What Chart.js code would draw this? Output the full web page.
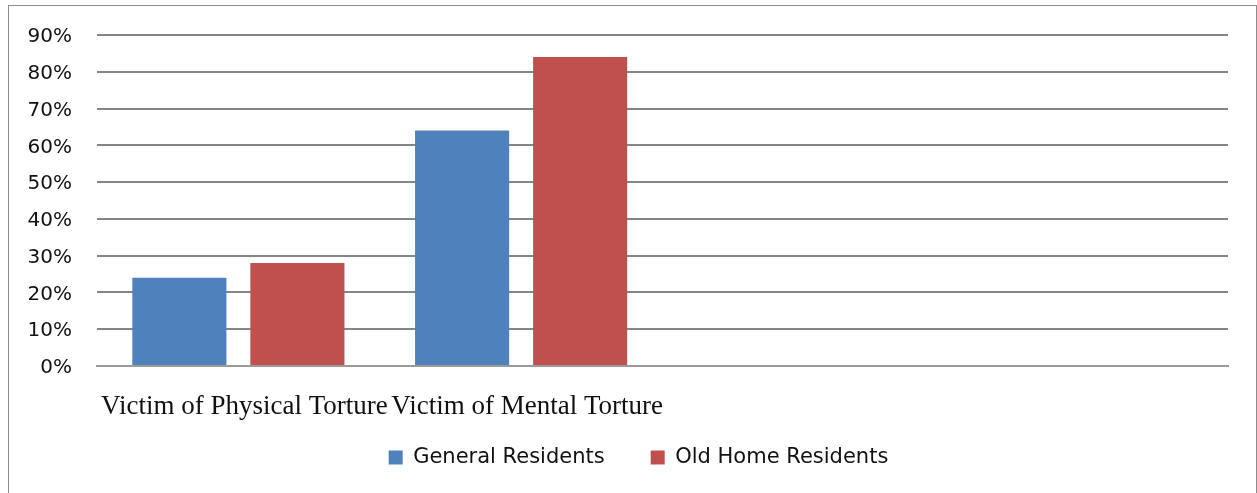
<!DOCTYPE html>
<html>
<head>
<meta charset="utf-8">
<script src="https://cdn.jsdelivr.net/npm/chart.js@4/dist/chart.umd.min.js"></script>
<style>
	html, body { margin: 0; padding: 0; background: #fff; overflow: hidden; }
	#frame {
		position: absolute;
		left: 8px;
		top: 5px;
		width: 1249px;
		height: 520px;
		border: 1px solid #8c8c8c;
		box-sizing: border-box;
	}
	#tortureChart { display: block; }
</style>
</head>
<body>
<div id="frame">
	<canvas id="tortureChart" width="1247" height="500"></canvas>
</div>
<script>
const categories = ['Victim of Physical Torture', 'Victim of Mental Torture', '', ''];
const generalResidents = [24, 64, null, null];
const oldHomeResidents = [28, 84, null, null];
const yTicks = [0, 10, 20, 30, 40, 50, 60, 70, 80, 90];

// the legend sits a bit left of the plot centre and close under the labels in the original
const legendShift = {
	id: 'legendShift',
	afterLayout: (chart) => {
		chart.legend.left += 40;
		chart.legend.top -= 20;
	}
};

document.addEventListener('DOMContentLoaded', () => {
	const canvas = document.getElementById('tortureChart');

	new Chart(canvas.getContext('2d'), {
		type: 'bar',
		data: {
			labels: categories,
			datasets: [{
				label: 'General Residents',
				data: generalResidents,
				backgroundColor: '#4F81BD',
				borderWidth: 0
			}, {
				label: 'Old Home Residents',
				data: oldHomeResidents,
				backgroundColor: '#C0504D',
				borderWidth: 0
			}]
		},
		plugins: [legendShift],
		options: {
			responsive: false,
			animation: false,
			categoryPercentage: 0.835,
			barPercentage: 0.797,
			layout: {
				padding: { left: 0, right: 28, top: 29, bottom: 8 }
			},
			scales: {
				x: {
					grid: { display: false },
					border: { display: true, color: '#9a9a9a', width: 2 },
					afterFit: (scale) => { scale.height = 55; },
					ticks: {
						autoSkip: false,
						maxRotation: 0,
						minRotation: 0,
						padding: 17,
						labelOffset: 6,
						color: '#111',
						font: { family: '"Liberation Serif", serif', size: 27 }
					}
				},
				y: {
					min: 0,
					max: yTicks[yTicks.length - 1],
					afterFit: (scale) => { scale.width = 88; },
					afterBuildTicks: (scale) => {
						scale.ticks = yTicks.map(v => ({ value: v }));
					},
					grid: {
						color: '#868686',
						lineWidth: 2,
						drawTicks: true,
						tickLength: 25,
						tickColor: 'rgba(0,0,0,0)'
					},
					border: { display: false },
					ticks: {
						padding: 0,
						labelOffset: 2,
						color: '#111',
						font: { family: '"DejaVu Sans", sans-serif', size: 20 },
						callback: (value) => value + '%'
					}
				}
			},
			plugins: {
				legend: {
					position: 'bottom',
					labels: {
						boxWidth: 14,
						boxHeight: 14,
						padding: 46,
						color: '#111',
						font: { family: '"DejaVu Sans", sans-serif', size: 21 }
					}
				},
				tooltip: { enabled: false }
			}
		}
	});
});
</script>
</body>
</html>
